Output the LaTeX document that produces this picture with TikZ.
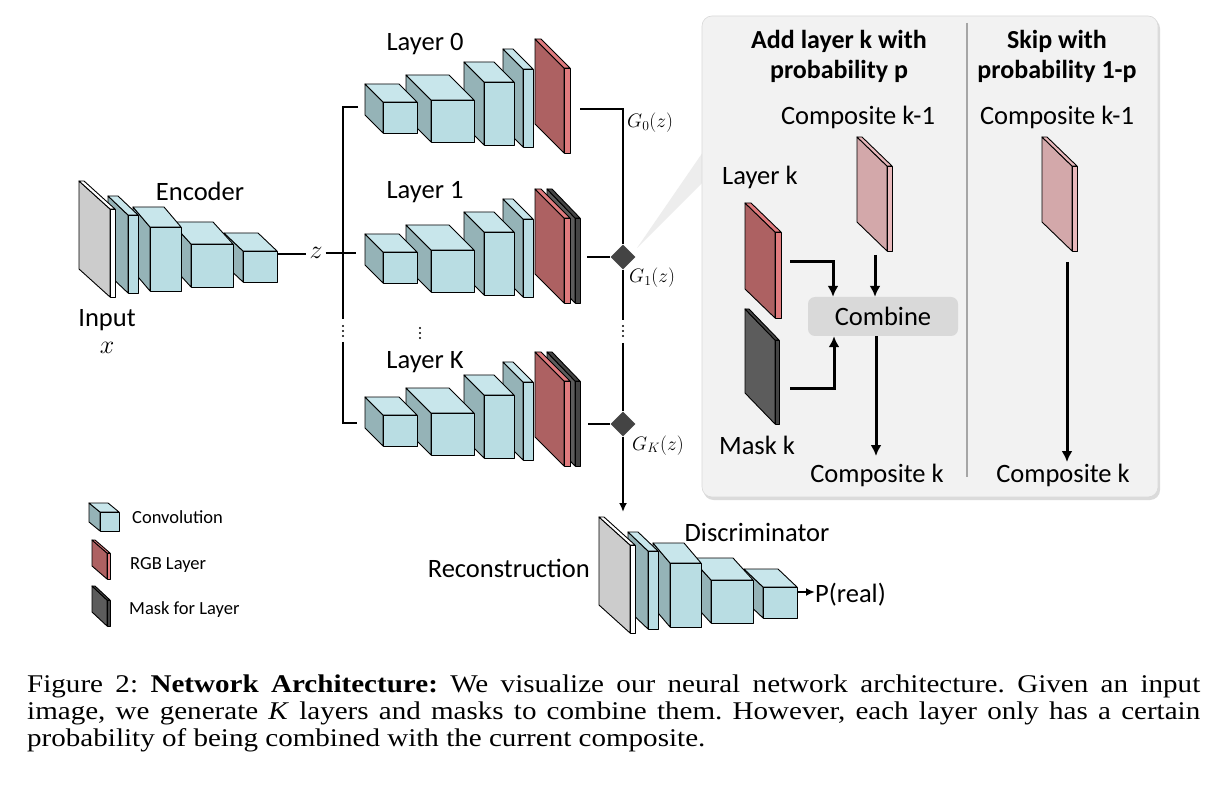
\RequirePackage{fix-cm}
\documentclass[tikz,border=0pt]{standalone}
\usepackage{fontspec}
\setmainfont{Carlito}
\newfontfamily\capserif{Liberation Serif}
\usetikzlibrary{arrows.meta,shapes.geometric}

\definecolor{convF}{HTML}{B9DDE3}
\definecolor{convT}{HTML}{C8E6EB}
\definecolor{convS}{HTML}{95B3B7}
\definecolor{rgbS}{HTML}{AD6162}
\definecolor{rgbF}{HTML}{E07B7E}
\definecolor{maskS}{HTML}{5C5C5C}
\definecolor{maskF}{HTML}{444444}
\definecolor{compS}{HTML}{D3A8AA}
\definecolor{compF}{HTML}{E8B8BB}
\definecolor{inS}{HTML}{CCCCCC}
\definecolor{panelC}{HTML}{F2F2F2}
\definecolor{combineC}{HTML}{D9D9D9}
\definecolor{junctionC}{HTML}{444444}

\newcommand{\mylab}{\fontsize{26.5}{30}\selectfont}
\newcommand{\myttl}{\bfseries\fontsize{26}{30}\selectfont}
\newcommand{\myleg}{\fontsize{18.5}{22}\selectfont}
\newcommand{\mygl}{\fontsize{19.5}{22}\selectfont}
\newcommand{\mymath}{\fontsize{26}{28}\selectfont}
\newcommand{\mycap}{\capserif\fontsize{25.5}{27}\selectfont\frenchspacing}
\newcommand{\capline}[1]{\scalebox{1.14}[1]{#1}}

% #1 x, #2 y (front top-left), #3 w, #4 h, #5 dx, #6 dy, #7 front, #8 side, #9 top
\newcommand{\cuboid}[9]{%
  \filldraw[blk,fill=#8] (#1,#2) -- ++(-#5,-#6) -- ++(0,#4) -- ++(#5,#6) -- cycle;
  \filldraw[blk,fill=#9] (#1,#2) -- ++(-#5,-#6) -- ++(#3,0) -- ++(#5,#6) -- cycle;
  \filldraw[blk,fill=#7] (#1,#2) rectangle ++(#3,#4);
}
\newcommand{\convbox}[6]{\cuboid{#1}{#2}{#3}{#4}{#5}{#6}{convF}{convS}{convT}}
\newcommand{\rgbplane}[6]{\cuboid{#1}{#2}{#3}{#4}{#5}{#6}{rgbF}{rgbS}{rgbF}}
\newcommand{\maskplane}[6]{\cuboid{#1}{#2}{#3}{#4}{#5}{#6}{maskF}{maskS}{maskF}}
\newcommand{\compplane}[6]{\cuboid{#1}{#2}{#3}{#4}{#5}{#6}{compF}{compS}{compF}}
\newcommand{\vdotsat}[2]{\foreach \dd in {-5,0,5} {\fill (#1,#2+\dd) circle (1.2pt);}}

% generator stack, drawn right to left
\newcommand{\genstack}[1]{%
  \ifnum#1=1 \maskplane{575}{68}{5}{85}{28}{29}\fi
  \rgbplane{564}{68}{6}{85}{29}{29}
  \convbox{523}{69}{10}{78}{20}{20}
  \convbox{484}{82}{30}{63}{20}{20}
  \convbox{431}{100}{43}{42}{25}{25}
  \convbox{383}{102}{34}{31}{18}{18}
}
% encoder / discriminator stack, drawn right to left
\newcommand{\encstack}{%
  \convbox{243}{251}{34}{31}{19}{18}
  \convbox{191}{244}{42}{43}{20}{22}
  \convbox{150}{227}{31}{64}{17}{20}
  \convbox{128}{215}{10}{78}{20}{19}
  \cuboid{110}{209}{5}{88}{31}{28}{white}{inS}{white}
}

\begin{document}
\begin{tikzpicture}[x=1pt,y=-1pt,
  blk/.style={draw=black, line width=0.9pt, line join=round},
  conn/.style={line width=2.6pt},
  arr/.style={line width=3pt,-{Latex[length=11pt,width=11pt]}},
  arrthin/.style={line width=2pt,-{Latex[length=9pt,width=8pt]}},
  lab/.style={font=\mylab, inner sep=0pt, anchor=base},
  ttl/.style={font=\myttl, inner sep=0pt, anchor=base},
  leg/.style={font=\myleg, inner sep=0pt, anchor=base west},
  glab/.style={font=\mygl, inner sep=0pt, anchor=base west},
  mathl/.style={font=\mymath, inner sep=0pt, anchor=base},
  junc/.style={shape=diamond, fill=junctionC, inner sep=0pt, minimum width=25pt, minimum height=25pt}
]
\useasboundingbox (0,0) rectangle (1224,786);
\fill[white] (0,0) rectangle (1224,786);

% ---------------- Encoder ----------------
\encstack
\coordinate (e4r) at (277,254);
\node[lab] (enc) at (200,201) {Encoder};
\node[lab] (inp) at (107,327) {Input};
\node[mathl] (xv) at (107,354) {$x$};
\node[mathl] (zv) at (316,259) {$z$};

% ---------------- Generator layers ----------------
\genstack{0}
\coordinate (rgb0r) at (580,109);
\begin{scope}[shift={(0,150)}]
  \genstack{1}
  \coordinate (rgb1r) at (587,107);
\end{scope}
\begin{scope}[shift={(0,313)}]
  \genstack{1}
  \coordinate (rgbKr) at (588,111);
\end{scope}
\node[lab] (l0) at (425,51) {Layer 0};
\node[lab] (l1) at (425,199) {Layer 1};
\node[lab] (lK) at (425,369) {Layer K};

% left bracket
\coordinate (lb0) at (358,107);
\coordinate (lbt) at (343,107);
\coordinate (lbv1) at (343,319);
\coordinate (lbv2) at (343,342);
\coordinate (lbb) at (343,423);
\coordinate (lbK) at (357,423);
\coordinate (lb1) at (356,253);
\draw[conn] (lb0) -- (lbt) -- (lbv1);
\draw[conn] (lbv2) -- (lbb) -- (lbK);
\draw[conn] (e4r) -- ([xshift=-3pt]zv.west |- e4r);
\draw[conn] ([xshift=3pt]zv.east |- lb1) -- (lb1);

\vdotsat{343}{331}
\vdotsat{420}{333}
\vdotsat{623}{331}

% right junction line
\node[junc] (d1) at (623,257) {};
\node[junc] (dK) at (623,424) {};
\coordinate (g0c) at (623,109);
\coordinate (rv1) at (623,320);
\coordinate (rv2) at (623,343);
\coordinate (discin) at (623,512);
\draw[conn] (rgb0r) -- (g0c) -- (d1.north);
\draw[conn] (rgb1r) -- (d1.west);
\draw[conn] (d1.south) -- (rv1);
\draw[conn] (rv2) -- (dK.north);
\draw[conn] (rgbKr) -- (dK.west);
\draw[arrthin] (dK.south) -- (discin);

\node[glab] (g0) at (627,128) {$G_0(z)$};
\node[glab] (g1) at (629,283) {$G_1(z)$};
\node[glab] (gK) at (632,450) {$G_K(z)$};

% ---------------- Callout panel ----------------
\fill[gray!14] (637,248) -- (703,152) -- (703,182) -- cycle;
\fill[gray!28, rounded corners=10pt] (703.5,18.5) rectangle (1160,500);
\filldraw[fill=panelC, draw=gray!30, line width=0.6pt, rounded corners=10pt] (702,16) rectangle (1158,497);
\coordinate (divt) at (967,23);
\coordinate (divb) at (967,477);
\draw[gray!70, line width=1.4pt] (divt) -- (divb);

\node[ttl] (t1a) at (839,49) {Add layer k with};
\node[ttl] (t1b) at (839,79) {probability p};
\node[ttl] (t2a) at (1057,49) {Skip with};
\node[ttl] (t2b) at (1057,79) {probability 1-p};

\node[lab] (ck1a) at (858,125) {Composite k-1};
\node[lab] (ck1b) at (1057,125) {Composite k-1};
\node[lab,anchor=base west] (lk) at (722,185) {Layer k};

\compplane{887}{166}{5}{85}{30}{29}
\compplane{1072}{166}{5}{85}{30}{29}
\rgbplane{775}{232}{6}{86}{30}{29}
\maskplane{775}{340}{4}{84}{30}{31}

\node[fill=combineC, rounded corners=7pt, minimum width=150pt, minimum height=39pt, inner sep=0pt, font=\mylab] (comb) at (883,316.5) {\raisebox{-1pt}{Combine}};

\coordinate (lkr) at (790,262);
\coordinate (mkr) at (790,388);
\coordinate (c1out) at (875,255);
\coordinate (c2out) at (1067,262);
\coordinate (ckin) at (876,456);
\coordinate (ck2in) at (1067,462);
\draw[arr] (lkr) -| ([xshift=-50pt]comb.north);
\draw[arr] (mkr) -| ([xshift=-49pt]comb.south);
\draw[arr] (c1out) -- (c1out |- comb.north);
\draw[arr] (comb.south -| ckin) -- (ckin);
\draw[arr] (c2out) -- (ck2in);

\node[lab] (mk) at (757,454) {Mask k};
\node[lab] (cka) at (877,482) {Composite k};
\node[lab] (ckb) at (1063,482) {Composite k};

% ---------------- Legend ----------------
\convbox{100}{512}{19}{19}{11}{9}
\rgbplane{107}{553}{3}{26}{15}{13}
\maskplane{107}{600}{3}{26}{15}{14}
\node[leg] (lg1) at (132,523) {Convolution};
\node[leg] (lg2) at (130,569) {RGB Layer};
\node[leg] (lg3) at (129,614) {Mask for Layer};

% ---------------- Discriminator ----------------
\begin{scope}[shift={(520,336)}]
  \encstack
  \coordinate (d4r) at (277,256);
\end{scope}
\node[lab,anchor=base east] (rec) at (590,577) {Reconstruction};
\node[lab] (disc) at (757,541) {Discriminator};
\node[lab,anchor=base west] (preal) at (815,602) {P(real)};
\draw[arrthin] (d4r) -- (preal.west |- d4r);

% ---------------- Caption ----------------
\node[anchor=base west, inner sep=0pt, font=\mycap] (cap1) at (27,692)
  {\capline{\hbox to 1029pt{Figure 2:\ \textbf{Network Architecture:} We visualize our neural network architecture.\ Given an input}}};
\node[anchor=base west, inner sep=0pt, font=\mycap] (cap2) at (27,719)
  {\capline{\hbox to 1029pt{image, we generate \textit{K} layers and masks to combine them. However, each layer only has a certain}}};
\node[anchor=base west, inner sep=0pt, font=\mycap] (cap3) at (27,746)
  {\capline{probability of being combined with the current composite.}};
\end{tikzpicture}
\end{document}
